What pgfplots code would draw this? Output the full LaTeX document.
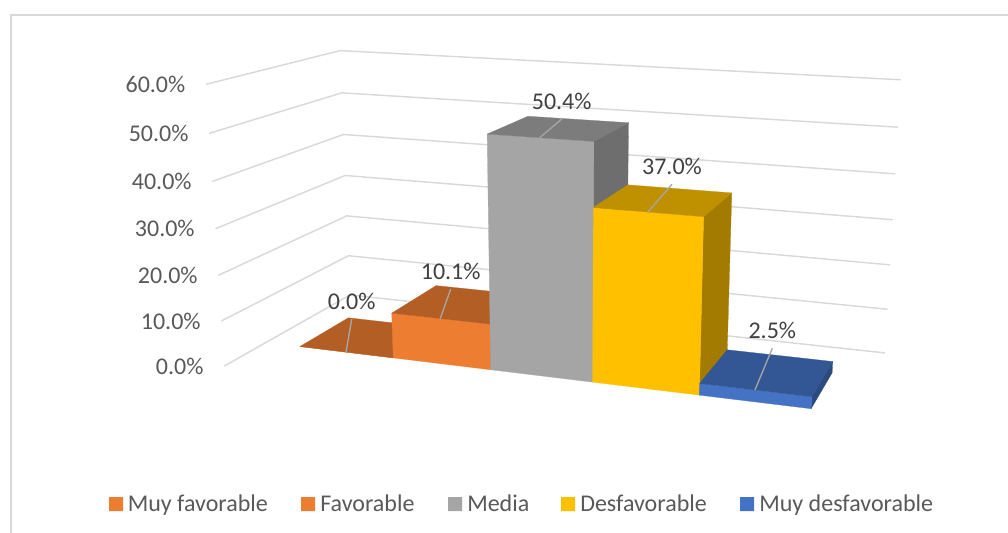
\documentclass[border=0pt]{standalone}
\usepackage{pgfplots}
\usepackage{fontspec}
\pgfplotsset{compat=1.18}
\setmainfont{Carlito}

% Perspective projection of the chart box: u along the categories,
% v into the depth of the floor, val is the percentage on the height axis.
\pgfmathdeclarefunction{boxX}{3}{\pgfmathparse{(224.3+507.45*#1+181.6*#2-28.48*(#3/60))/(1-0.1275*#1+0.1596*#2-0.04983*(#3/60))}}
\pgfmathdeclarefunction{boxY}{3}{\pgfmathparse{(366+22.19*#1-23.94*#2-285.9*(#3/60))/(1-0.1275*#1+0.1596*#2-0.04983*(#3/60))}}

\definecolor{gridc}{HTML}{D9D9D9}
\definecolor{tickc}{HTML}{595959}
\definecolor{valc}{HTML}{404040}
\definecolor{leadc}{HTML}{A6A6A6}

\definecolor{orangeF}{HTML}{ED7D31}
\definecolor{orangeS}{HTML}{9E5321}
\definecolor{orangeT}{HTML}{B35E24}
\definecolor{grayF}{HTML}{A5A5A5}
\definecolor{grayS}{HTML}{6E6E6E}
\definecolor{grayT}{HTML}{7C7C7C}
\definecolor{goldF}{HTML}{FFC000}
\definecolor{goldS}{HTML}{A37B00}
\definecolor{goldT}{HTML}{BF9000}
\definecolor{blueF}{HTML}{4472C4}
\definecolor{blueS}{HTML}{2C4A80}
\definecolor{blueT}{HTML}{335694}

\newcommand{\chartfont}{\fontsize{18.07}{22}\selectfont}
\tikzset{
  valtext/.style={font=\chartfont,text=valc,inner sep=0pt,anchor=center},
  ticktext/.style={font=\chartfont,text=tickc,inner sep=0pt,anchor=east},
  legtext/.style={font=\chartfont,text=tickc,inner sep=0pt,anchor=base west},
}

% One face of the box, from vertices given as u v val
\newcommand{\facet}[2]{%
  \addplot[fill=#1,draw=#1,line width=0.2pt,forget plot]
    table[row sep=\\,
          x expr={boxX(\thisrow{u},\thisrow{v},\thisrow{val})},
          y expr={boxY(\thisrow{u},\thisrow{v},\thisrow{val})}]
    {u v val\\ #2};}

% \barbox{u0}{u1}{value}{front}{side}{top}{leader end x}{leader end y}
\newcommand{\barbox}[8]{%
  \facet{#5}{#2 0.3 0\\ #2 0.7 0\\ #2 0.7 #3\\ #2 0.3 #3\\ #2 0.3 0\\}
  \facet{#4}{#1 0.3 0\\ #2 0.3 0\\ #2 0.3 #3\\ #1 0.3 #3\\ #1 0.3 0\\}
  \facet{#6}{#1 0.3 #3\\ #2 0.3 #3\\ #2 0.7 #3\\ #1 0.7 #3\\ #1 0.3 #3\\}
  \pgfmathsetmacro\um{(#1+#2)/2}
  \pgfmathsetmacro\fx{boxX(\um,0.3,#3)}
  \pgfmathsetmacro\fy{boxY(\um,0.3,#3)}
  \addplot[draw=leadc,line width=1pt,forget plot] coordinates {(\fx,\fy) (#7,#8)};
  \pgfmathsetmacro\ly{#8-17.7}
  \edef\tmp{\noexpand\node[valtext] at (axis cs:#7,\ly) {#3\noexpand\%};}\tmp
}

% Legend swatch and its entry
\newcommand{\legendentry}[4]{%
  \addplot[fill=#1,draw=none,forget plot] coordinates
    {(#2,497) (#2+14,497) (#2+14,511) (#2,511) (#2,497)};
  \node[legtext] at (axis cs:#3,511) {#4};
}

\begin{document}
\begin{tikzpicture}
\path[use as bounding box] (0,0) rectangle (756bp,399.75bp);
\begin{axis}[
  at={(0,0)},anchor=south west,
  scale only axis,width=756bp,height=399.75bp,
  xmin=0,xmax=1008,ymin=0,ymax=533,y dir=reverse,
  axis lines=none,
  no markers,
  every axis plot/.append style={solid},
]
% Frame of the chart area
\addplot[draw=gridc,line width=1.6pt,forget plot] coordinates {(11,533) (11,15) (1008,15)};

% Gridlines on the two walls with the height axis labels
\pgfplotsinvokeforeach{0,10,20,30,40,50,60}{
  \addplot[draw=gridc,line width=1.1pt,forget plot]
    table[row sep=\\,
          x expr={boxX(\thisrow{u},\thisrow{v},\thisrow{val})},
          y expr={boxY(\thisrow{u},\thisrow{v},\thisrow{val})}]
    {u v val\\ 0 0 #1\\ 0 1 #1\\ 1 1 #1\\};
  \pgfmathsetmacro\tx{boxX(0,0,#1)-20.5}
  \pgfmathsetmacro\ty{boxY(0,0,#1)}
  \edef\tmp{\noexpand\node[ticktext] at (axis cs:\tx,\ty) {#1.0\noexpand\%};}\tmp
}

% Bars, left to right so that each one overlaps the one before it
\barbox{0.065}{0.239}{0.0}{orangeF}{orangeS}{orangeT}{351.7}{319}
\barbox{0.239}{0.413}{10.1}{orangeF}{orangeS}{orangeT}{450.7}{289}
\barbox{0.413}{0.587}{50.4}{grayF}{grayS}{grayT}{561.7}{119}
\barbox{0.587}{0.761}{37.0}{goldF}{goldS}{goldT}{672}{184.3}
\barbox{0.761}{0.935}{2.5}{blueF}{blueS}{blueT}{772.3}{348.3}

% Legend
\legendentry{orangeF}{109}{127.5}{Muy favorable}
\legendentry{orangeF}{301}{320}{Favorable}
\legendentry{grayF}{448}{467}{Media}
\legendentry{goldF}{561}{580}{Desfavorable}
\legendentry{blueF}{740}{759}{Muy desfavorable}
\end{axis}
\end{tikzpicture}
\end{document}
